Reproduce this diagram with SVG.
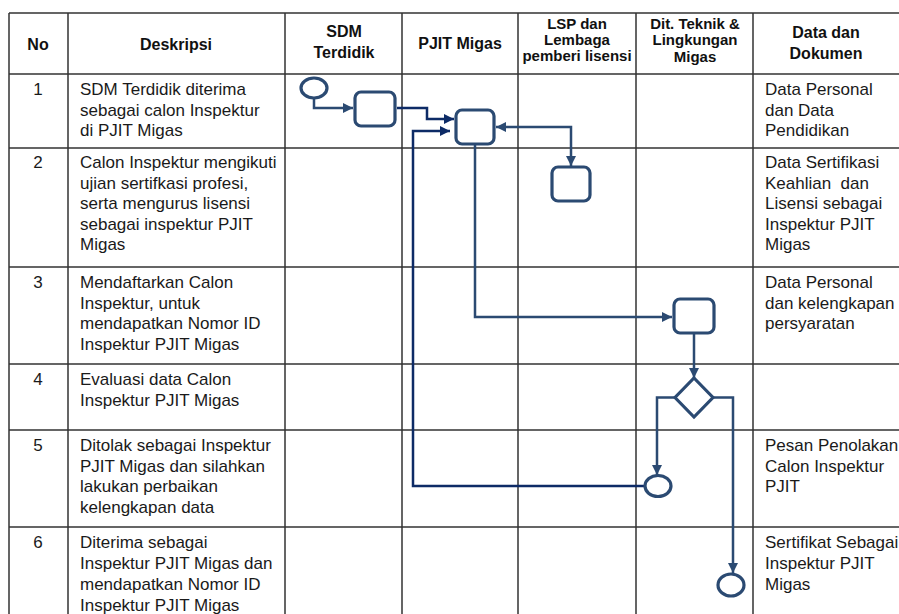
<svg xmlns="http://www.w3.org/2000/svg" width="899" height="614" viewBox="0 0 899 614">
<style>
.grid{stroke:#333;stroke-width:1.5;fill:none}
.h{font-family:"Liberation Sans",Arial,sans-serif;font-weight:bold;font-size:16px;fill:#111;text-anchor:middle}
.hs{font-size:15px}
.t{font-family:"Liberation Sans",Arial,sans-serif;font-size:17px;fill:#1a1a1a}
.n{text-anchor:middle}
.shape{fill:#fff;stroke:#2b4a72;stroke-width:3.2}
.c{fill:none;stroke:#2b4a72;stroke-width:2.5}
.cd{fill:none;stroke:#0d2b66;stroke-width:2.5}
</style>
<defs>
<marker id="a" viewBox="0 0 10 10" refX="10" refY="5" markerWidth="10" markerHeight="10" markerUnits="userSpaceOnUse" orient="auto-start-reverse"><path d="M0,0 L10,5 L0,10 z" fill="#2b4a72"/></marker>
<marker id="ad" viewBox="0 0 10 10" refX="10" refY="5" markerWidth="10" markerHeight="10" markerUnits="userSpaceOnUse" orient="auto"><path d="M0,0 L10,5 L0,10 z" fill="#0d2b66"/></marker>
</defs>
<rect width="899" height="614" fill="#fff"/>
<g id="table">
<path class="grid" d="M9,13 H899 M9,74 H899 M9,148 H899 M9,267 H899 M9,364 H899 M9,430 H899 M9,527 H899 M9,13 V614 M68,13 V614 M285,13 V614 M402,13 V614 M518,13 V614 M636,13 V614 M753,13 V614"/>
<text class="h" x="38" y="50">No</text>
<text class="h" x="176" y="50">Deskripsi</text>
<text class="h" x="344" y="37">SDM</text>
<text class="h" x="344" y="58">Terdidik</text>
<text class="h" x="460" y="49">PJIT Migas</text>
<text class="h hs" x="577" y="29">LSP dan</text>
<text class="h hs" x="577" y="45">Lembaga</text>
<text class="h hs" x="577" y="61">pemberi lisensi</text>
<text class="h hs" x="695" y="29">Dit. Teknik &amp;</text>
<text class="h hs" x="695" y="45">Lingkungan</text>
<text class="h hs" x="695" y="62">Migas</text>
<text class="h" x="826" y="38">Data dan</text>
<text class="h" x="826" y="59">Dokumen</text>
</g>
<g id="row1">
<text class="t n" x="38" y="95">1</text>
<text class="t" x="80" y="95">SDM Terdidik diterima</text>
<text class="t" x="80" y="115.5">sebagai calon Inspektur</text>
<text class="t" x="80" y="136">di PJIT Migas</text>
<text class="t" x="765" y="95">Data Personal</text>
<text class="t" x="765" y="115.5">dan Data</text>
<text class="t" x="765" y="136">Pendidikan</text>
</g>
<g id="row2">
<text class="t n" x="38" y="168">2</text>
<text class="t" x="80" y="168">Calon Inspektur mengikuti</text>
<text class="t" x="80" y="188.5">ujian sertifkasi profesi,</text>
<text class="t" x="80" y="209">serta mengurus lisensi</text>
<text class="t" x="80" y="229.5">sebagai inspektur PJIT</text>
<text class="t" x="80" y="250">Migas</text>
<text class="t" x="765" y="168">Data Sertifikasi</text>
<text class="t" x="765" y="188.5" xml:space="preserve">Keahlian  dan</text>
<text class="t" x="765" y="209">Lisensi sebagai</text>
<text class="t" x="765" y="229.5">Inspektur PJIT</text>
<text class="t" x="765" y="250">Migas</text>
</g>
<g id="row3">
<text class="t n" x="38" y="288">3</text>
<text class="t" x="80" y="288">Mendaftarkan Calon</text>
<text class="t" x="80" y="308.5">Inspektur, untuk</text>
<text class="t" x="80" y="329">mendapatkan Nomor ID</text>
<text class="t" x="80" y="349.5">Inspektur PJIT Migas</text>
<text class="t" x="765" y="288">Data Personal</text>
<text class="t" x="765" y="308.5">dan kelengkapan</text>
<text class="t" x="765" y="329">persyaratan</text>
</g>
<g id="row4">
<text class="t n" x="38" y="385">4</text>
<text class="t" x="80" y="385">Evaluasi data Calon</text>
<text class="t" x="80" y="405.5">Inspektur PJIT Migas</text>
</g>
<g id="row5">
<text class="t n" x="38" y="451">5</text>
<text class="t" x="80" y="451">Ditolak sebagai Inspektur</text>
<text class="t" x="80" y="471.5">PJIT Migas dan silahkan</text>
<text class="t" x="80" y="492">lakukan perbaikan</text>
<text class="t" x="80" y="512.5">kelengkapan data</text>
<text class="t" x="765" y="451">Pesan Penolakan</text>
<text class="t" x="765" y="471.5">Calon Inspektur</text>
<text class="t" x="765" y="492">PJIT</text>
</g>
<g id="row6">
<text class="t n" x="38" y="548">6</text>
<text class="t" x="80" y="548">Diterima sebagai</text>
<text class="t" x="80" y="569">Inspektur PJIT Migas dan</text>
<text class="t" x="80" y="590">mendapatkan Nomor ID</text>
<text class="t" x="80" y="611">Inspektur PJIT Migas</text>
<text class="t" x="765" y="548">Sertifikat Sebagai</text>
<text class="t" x="765" y="569">Inspektur PJIT</text>
<text class="t" x="765" y="590">Migas</text>
</g>
<g id="connectors">
<path class="c" d="M314,98 V108 H353" marker-end="url(#a)"/>
<path class="cd" d="M397,108 H427 V119 H454" marker-end="url(#ad)"/>
<path class="cd" d="M645,486 H413 V131 H450" marker-end="url(#ad)"/>
<path class="c" d="M496,127 H571 V166" marker-start="url(#a)" marker-end="url(#a)"/>
<path class="c" d="M475,144 V317 H672" marker-end="url(#a)"/>
<path class="c" d="M694,334 V378" marker-end="url(#a)"/>
<path class="c" d="M675,397.5 H657 V475" marker-end="url(#a)"/>
<path class="c" d="M712,397.5 H733 V573" marker-end="url(#a)"/>
</g>
<g id="start"><ellipse class="shape" cx="314" cy="88" rx="13" ry="10"/></g>
<g id="task1"><rect class="shape" x="355" y="92" width="40" height="34" rx="6"/></g>
<g id="task2"><rect class="shape" x="456" y="110" width="38" height="34" rx="6"/></g>
<g id="task3"><rect class="shape" x="552" y="167" width="38" height="34" rx="6"/></g>
<g id="task4"><rect class="shape" x="674" y="299" width="40" height="34" rx="6"/></g>
<g id="gateway"><path class="shape" d="M694,378 L713,397.5 L694,417 L675,397.5 z"/></g>
<g id="endReject"><ellipse class="shape" cx="658" cy="486" rx="13" ry="10.5"/></g>
<g id="endAccept"><ellipse class="shape" cx="731" cy="585" rx="13" ry="11"/></g>
</svg>
